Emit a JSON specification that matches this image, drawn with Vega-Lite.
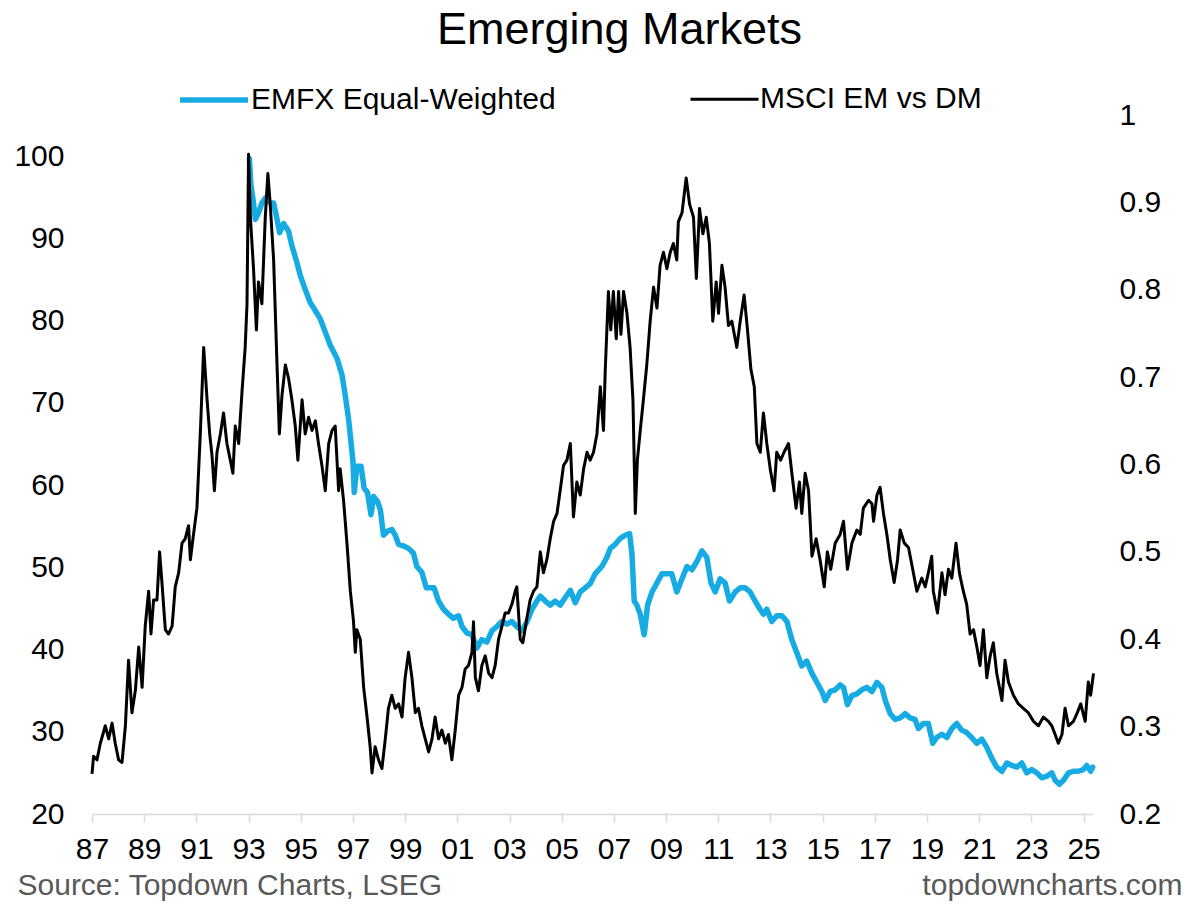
{
  "$schema": "https://vega.github.io/schema/vega-lite/v6.json",
  "width": 1001,
  "height": 699,
  "autosize": {"type": "none"},
  "padding": {"left": 92, "top": 115, "right": 97, "bottom": 91},
  "background": "white",
  "title": {
    "text": "Emerging Markets",
    "font": "Liberation Sans",
    "fontSize": 45,
    "fontWeight": "normal",
    "color": "black",
    "anchor": "middle",
    "dx": 27,
    "offset": 10
  },
  "config": {
    "view": {"stroke": null},
    "font": "Liberation Sans"
  },
  "datasets": {
    "emfx": [
      {"year": 1993.03, "value": 99.7}, {"year": 1993.09, "value": 96.5}, {"year": 1993.19, "value": 94.3}, {"year": 1993.26, "value": 92.3},
      {"year": 1993.38, "value": 93.1}, {"year": 1993.51, "value": 94.3}, {"year": 1993.64, "value": 94.9}, {"year": 1993.83, "value": 94.3},
      {"year": 1993.96, "value": 94.3}, {"year": 1994.06, "value": 92.8}, {"year": 1994.19, "value": 90.7}, {"year": 1994.34, "value": 91.8},
      {"year": 1994.53, "value": 90.9}, {"year": 1994.66, "value": 89.1}, {"year": 1994.85, "value": 87.1}, {"year": 1994.98, "value": 85.5},
      {"year": 1995.17, "value": 83.8}, {"year": 1995.36, "value": 82.2}, {"year": 1995.56, "value": 81.2}, {"year": 1995.75, "value": 80.2},
      {"year": 1995.94, "value": 78.6}, {"year": 1996.13, "value": 77.0}, {"year": 1996.39, "value": 75.4}, {"year": 1996.58, "value": 73.4},
      {"year": 1996.70, "value": 71.0}, {"year": 1996.83, "value": 68.1}, {"year": 1996.90, "value": 66.0}, {"year": 1997.00, "value": 62.9},
      {"year": 1997.05, "value": 59.1}, {"year": 1997.15, "value": 62.3}, {"year": 1997.31, "value": 62.3}, {"year": 1997.43, "value": 59.6},
      {"year": 1997.56, "value": 59.1}, {"year": 1997.69, "value": 56.4}, {"year": 1997.79, "value": 58.6}, {"year": 1997.94, "value": 58.0},
      {"year": 1998.05, "value": 57.0}, {"year": 1998.17, "value": 53.9}, {"year": 1998.33, "value": 54.4}, {"year": 1998.49, "value": 54.6},
      {"year": 1998.62, "value": 53.9}, {"year": 1998.75, "value": 52.8}, {"year": 1998.94, "value": 52.6}, {"year": 1999.13, "value": 52.3},
      {"year": 1999.32, "value": 51.7}, {"year": 1999.45, "value": 50.1}, {"year": 1999.64, "value": 49.4}, {"year": 1999.81, "value": 47.5},
      {"year": 1999.96, "value": 47.5}, {"year": 2000.11, "value": 47.5}, {"year": 2000.28, "value": 45.9}, {"year": 2000.47, "value": 44.9},
      {"year": 2000.66, "value": 44.3}, {"year": 2000.85, "value": 43.8}, {"year": 2001.05, "value": 44.1}, {"year": 2001.18, "value": 42.8},
      {"year": 2001.37, "value": 42.0}, {"year": 2001.56, "value": 41.8}, {"year": 2001.75, "value": 40.2}, {"year": 2001.94, "value": 41.2},
      {"year": 2002.13, "value": 40.9}, {"year": 2002.33, "value": 42.3}, {"year": 2002.52, "value": 42.8}, {"year": 2002.71, "value": 43.4},
      {"year": 2002.90, "value": 43.1}, {"year": 2003.09, "value": 43.4}, {"year": 2003.28, "value": 42.8}, {"year": 2003.48, "value": 42.3},
      {"year": 2003.67, "value": 43.4}, {"year": 2003.86, "value": 44.9}, {"year": 2004.05, "value": 45.9}, {"year": 2004.18, "value": 46.5},
      {"year": 2004.37, "value": 45.9}, {"year": 2004.56, "value": 45.4}, {"year": 2004.75, "value": 45.9}, {"year": 2004.94, "value": 45.4},
      {"year": 2005.13, "value": 46.3}, {"year": 2005.33, "value": 47.2}, {"year": 2005.52, "value": 45.7}, {"year": 2005.71, "value": 47.0},
      {"year": 2005.90, "value": 47.5}, {"year": 2006.09, "value": 48.0}, {"year": 2006.28, "value": 49.2}, {"year": 2006.54, "value": 50.1},
      {"year": 2006.73, "value": 51.2}, {"year": 2006.86, "value": 52.3}, {"year": 2007.05, "value": 52.8}, {"year": 2007.24, "value": 53.5},
      {"year": 2007.43, "value": 53.9}, {"year": 2007.60, "value": 54.1}, {"year": 2007.69, "value": 51.7}, {"year": 2007.78, "value": 45.9},
      {"year": 2007.88, "value": 45.4}, {"year": 2008.01, "value": 44.3}, {"year": 2008.16, "value": 41.8}, {"year": 2008.29, "value": 45.4},
      {"year": 2008.46, "value": 47.0}, {"year": 2008.65, "value": 48.1}, {"year": 2008.84, "value": 49.2}, {"year": 2009.03, "value": 49.2},
      {"year": 2009.22, "value": 49.2}, {"year": 2009.41, "value": 47.0}, {"year": 2009.61, "value": 48.6}, {"year": 2009.80, "value": 50.1},
      {"year": 2009.99, "value": 49.7}, {"year": 2010.18, "value": 50.7}, {"year": 2010.37, "value": 52.0}, {"year": 2010.56, "value": 51.2},
      {"year": 2010.72, "value": 48.1}, {"year": 2010.88, "value": 47.0}, {"year": 2011.07, "value": 48.6}, {"year": 2011.26, "value": 48.1},
      {"year": 2011.43, "value": 45.9}, {"year": 2011.65, "value": 47.0}, {"year": 2011.84, "value": 47.5}, {"year": 2012.03, "value": 47.5},
      {"year": 2012.22, "value": 47.0}, {"year": 2012.41, "value": 45.9}, {"year": 2012.60, "value": 44.9}, {"year": 2012.73, "value": 44.3},
      {"year": 2012.86, "value": 44.9}, {"year": 2013.05, "value": 43.4}, {"year": 2013.24, "value": 44.1}, {"year": 2013.44, "value": 44.1},
      {"year": 2013.63, "value": 43.4}, {"year": 2013.82, "value": 41.2}, {"year": 2014.01, "value": 39.6}, {"year": 2014.20, "value": 38.0},
      {"year": 2014.39, "value": 38.6}, {"year": 2014.59, "value": 37.1}, {"year": 2014.78, "value": 36.0}, {"year": 2014.97, "value": 34.9},
      {"year": 2015.10, "value": 33.8}, {"year": 2015.29, "value": 34.9}, {"year": 2015.48, "value": 35.1}, {"year": 2015.67, "value": 35.7},
      {"year": 2015.80, "value": 35.4}, {"year": 2015.95, "value": 33.3}, {"year": 2016.12, "value": 34.4}, {"year": 2016.31, "value": 34.6},
      {"year": 2016.50, "value": 35.1}, {"year": 2016.69, "value": 35.4}, {"year": 2016.89, "value": 34.9}, {"year": 2017.08, "value": 36.0},
      {"year": 2017.27, "value": 35.4}, {"year": 2017.40, "value": 33.8}, {"year": 2017.59, "value": 32.2}, {"year": 2017.78, "value": 31.5},
      {"year": 2017.97, "value": 31.7}, {"year": 2018.16, "value": 32.2}, {"year": 2018.35, "value": 31.7}, {"year": 2018.54, "value": 31.5},
      {"year": 2018.67, "value": 30.4}, {"year": 2018.86, "value": 31.0}, {"year": 2019.05, "value": 31.0}, {"year": 2019.22, "value": 28.6},
      {"year": 2019.37, "value": 29.3}, {"year": 2019.57, "value": 29.7}, {"year": 2019.76, "value": 29.3}, {"year": 2019.95, "value": 30.4},
      {"year": 2020.14, "value": 31.0}, {"year": 2020.33, "value": 30.2}, {"year": 2020.52, "value": 29.9}, {"year": 2020.71, "value": 29.3},
      {"year": 2020.91, "value": 28.6}, {"year": 2021.10, "value": 29.1}, {"year": 2021.29, "value": 28.1}, {"year": 2021.48, "value": 26.8},
      {"year": 2021.67, "value": 25.7}, {"year": 2021.87, "value": 25.2}, {"year": 2022.06, "value": 26.2}, {"year": 2022.25, "value": 25.9},
      {"year": 2022.44, "value": 25.7}, {"year": 2022.63, "value": 26.2}, {"year": 2022.82, "value": 25.0}, {"year": 2023.01, "value": 25.4},
      {"year": 2023.21, "value": 25.0}, {"year": 2023.40, "value": 24.4}, {"year": 2023.59, "value": 24.6}, {"year": 2023.78, "value": 25.0},
      {"year": 2023.91, "value": 24.1}, {"year": 2024.07, "value": 23.6}, {"year": 2024.23, "value": 24.1}, {"year": 2024.42, "value": 25.0},
      {"year": 2024.61, "value": 25.2}, {"year": 2024.80, "value": 25.2}, {"year": 2024.99, "value": 25.4}, {"year": 2025.12, "value": 25.9},
      {"year": 2025.27, "value": 25.2}, {"year": 2025.35, "value": 25.7}
    ],
    "msci": [
      {"year": 1987.00, "value": 0.246}, {"year": 1987.06, "value": 0.266}, {"year": 1987.19, "value": 0.262}, {"year": 1987.32, "value": 0.281},
      {"year": 1987.51, "value": 0.301}, {"year": 1987.64, "value": 0.286}, {"year": 1987.77, "value": 0.304}, {"year": 1987.89, "value": 0.281},
      {"year": 1988.02, "value": 0.262}, {"year": 1988.15, "value": 0.259}, {"year": 1988.28, "value": 0.301}, {"year": 1988.40, "value": 0.376},
      {"year": 1988.53, "value": 0.316}, {"year": 1988.66, "value": 0.341}, {"year": 1988.79, "value": 0.391}, {"year": 1988.92, "value": 0.345},
      {"year": 1989.04, "value": 0.415}, {"year": 1989.17, "value": 0.455}, {"year": 1989.26, "value": 0.406}, {"year": 1989.36, "value": 0.445},
      {"year": 1989.49, "value": 0.445}, {"year": 1989.59, "value": 0.500}, {"year": 1989.68, "value": 0.465}, {"year": 1989.81, "value": 0.411},
      {"year": 1989.93, "value": 0.406}, {"year": 1990.07, "value": 0.415}, {"year": 1990.19, "value": 0.460}, {"year": 1990.32, "value": 0.476},
      {"year": 1990.45, "value": 0.510}, {"year": 1990.57, "value": 0.515}, {"year": 1990.70, "value": 0.530}, {"year": 1990.77, "value": 0.491},
      {"year": 1990.89, "value": 0.520}, {"year": 1991.02, "value": 0.550}, {"year": 1991.15, "value": 0.635}, {"year": 1991.28, "value": 0.734},
      {"year": 1991.41, "value": 0.674}, {"year": 1991.51, "value": 0.635}, {"year": 1991.60, "value": 0.610}, {"year": 1991.69, "value": 0.570},
      {"year": 1991.79, "value": 0.614}, {"year": 1991.92, "value": 0.635}, {"year": 1992.04, "value": 0.659}, {"year": 1992.17, "value": 0.624},
      {"year": 1992.30, "value": 0.605}, {"year": 1992.40, "value": 0.590}, {"year": 1992.49, "value": 0.644}, {"year": 1992.62, "value": 0.624},
      {"year": 1992.75, "value": 0.684}, {"year": 1992.87, "value": 0.734}, {"year": 1992.94, "value": 0.784}, {"year": 1993.00, "value": 0.955},
      {"year": 1993.07, "value": 0.883}, {"year": 1993.19, "value": 0.824}, {"year": 1993.30, "value": 0.754}, {"year": 1993.38, "value": 0.809},
      {"year": 1993.51, "value": 0.784}, {"year": 1993.64, "value": 0.883}, {"year": 1993.74, "value": 0.933}, {"year": 1993.83, "value": 0.898},
      {"year": 1993.96, "value": 0.834}, {"year": 1994.09, "value": 0.714}, {"year": 1994.18, "value": 0.635}, {"year": 1994.28, "value": 0.679},
      {"year": 1994.41, "value": 0.714}, {"year": 1994.53, "value": 0.699}, {"year": 1994.66, "value": 0.674}, {"year": 1994.79, "value": 0.644},
      {"year": 1994.89, "value": 0.605}, {"year": 1995.05, "value": 0.674}, {"year": 1995.17, "value": 0.635}, {"year": 1995.30, "value": 0.654},
      {"year": 1995.43, "value": 0.639}, {"year": 1995.56, "value": 0.650}, {"year": 1995.68, "value": 0.624}, {"year": 1995.81, "value": 0.599},
      {"year": 1995.94, "value": 0.570}, {"year": 1996.07, "value": 0.624}, {"year": 1996.20, "value": 0.639}, {"year": 1996.32, "value": 0.644},
      {"year": 1996.45, "value": 0.570}, {"year": 1996.51, "value": 0.595}, {"year": 1996.64, "value": 0.559}, {"year": 1996.77, "value": 0.510},
      {"year": 1996.90, "value": 0.455}, {"year": 1997.02, "value": 0.421}, {"year": 1997.09, "value": 0.385}, {"year": 1997.15, "value": 0.411},
      {"year": 1997.28, "value": 0.400}, {"year": 1997.41, "value": 0.345}, {"year": 1997.54, "value": 0.311}, {"year": 1997.66, "value": 0.277},
      {"year": 1997.73, "value": 0.247}, {"year": 1997.85, "value": 0.277}, {"year": 1997.98, "value": 0.262}, {"year": 1998.11, "value": 0.252},
      {"year": 1998.24, "value": 0.286}, {"year": 1998.36, "value": 0.321}, {"year": 1998.49, "value": 0.336}, {"year": 1998.62, "value": 0.321},
      {"year": 1998.75, "value": 0.326}, {"year": 1998.88, "value": 0.311}, {"year": 1999.00, "value": 0.356}, {"year": 1999.13, "value": 0.385},
      {"year": 1999.26, "value": 0.356}, {"year": 1999.39, "value": 0.316}, {"year": 1999.51, "value": 0.321}, {"year": 1999.64, "value": 0.301},
      {"year": 1999.77, "value": 0.286}, {"year": 1999.90, "value": 0.271}, {"year": 2000.03, "value": 0.286}, {"year": 2000.15, "value": 0.311},
      {"year": 2000.28, "value": 0.286}, {"year": 2000.41, "value": 0.296}, {"year": 2000.54, "value": 0.281}, {"year": 2000.66, "value": 0.291},
      {"year": 2000.79, "value": 0.262}, {"year": 2000.92, "value": 0.296}, {"year": 2001.05, "value": 0.336}, {"year": 2001.18, "value": 0.345},
      {"year": 2001.30, "value": 0.366}, {"year": 2001.43, "value": 0.370}, {"year": 2001.56, "value": 0.385}, {"year": 2001.62, "value": 0.420},
      {"year": 2001.69, "value": 0.356}, {"year": 2001.81, "value": 0.341}, {"year": 2001.94, "value": 0.370}, {"year": 2002.07, "value": 0.381},
      {"year": 2002.20, "value": 0.361}, {"year": 2002.33, "value": 0.356}, {"year": 2002.45, "value": 0.370}, {"year": 2002.58, "value": 0.400},
      {"year": 2002.71, "value": 0.415}, {"year": 2002.83, "value": 0.430}, {"year": 2002.96, "value": 0.430}, {"year": 2003.09, "value": 0.440},
      {"year": 2003.22, "value": 0.455}, {"year": 2003.28, "value": 0.460}, {"year": 2003.41, "value": 0.400}, {"year": 2003.51, "value": 0.396},
      {"year": 2003.67, "value": 0.425}, {"year": 2003.79, "value": 0.445}, {"year": 2003.92, "value": 0.455}, {"year": 2004.05, "value": 0.460},
      {"year": 2004.18, "value": 0.500}, {"year": 2004.30, "value": 0.476}, {"year": 2004.43, "value": 0.491}, {"year": 2004.56, "value": 0.515},
      {"year": 2004.69, "value": 0.535}, {"year": 2004.82, "value": 0.544}, {"year": 2004.94, "value": 0.570}, {"year": 2005.07, "value": 0.599},
      {"year": 2005.20, "value": 0.605}, {"year": 2005.33, "value": 0.624}, {"year": 2005.45, "value": 0.540}, {"year": 2005.58, "value": 0.580},
      {"year": 2005.71, "value": 0.565}, {"year": 2005.84, "value": 0.595}, {"year": 2005.97, "value": 0.614}, {"year": 2006.09, "value": 0.605},
      {"year": 2006.22, "value": 0.614}, {"year": 2006.35, "value": 0.635}, {"year": 2006.48, "value": 0.689}, {"year": 2006.60, "value": 0.639},
      {"year": 2006.67, "value": 0.709}, {"year": 2006.79, "value": 0.798}, {"year": 2006.88, "value": 0.754}, {"year": 2006.98, "value": 0.798},
      {"year": 2007.09, "value": 0.744}, {"year": 2007.18, "value": 0.798}, {"year": 2007.27, "value": 0.749}, {"year": 2007.37, "value": 0.798},
      {"year": 2007.50, "value": 0.773}, {"year": 2007.62, "value": 0.734}, {"year": 2007.73, "value": 0.674}, {"year": 2007.82, "value": 0.544},
      {"year": 2007.90, "value": 0.605}, {"year": 2008.01, "value": 0.639}, {"year": 2008.13, "value": 0.674}, {"year": 2008.26, "value": 0.714},
      {"year": 2008.39, "value": 0.764}, {"year": 2008.52, "value": 0.803}, {"year": 2008.65, "value": 0.779}, {"year": 2008.77, "value": 0.828},
      {"year": 2008.90, "value": 0.843}, {"year": 2009.03, "value": 0.824}, {"year": 2009.16, "value": 0.843}, {"year": 2009.28, "value": 0.853},
      {"year": 2009.41, "value": 0.834}, {"year": 2009.47, "value": 0.878}, {"year": 2009.61, "value": 0.888}, {"year": 2009.77, "value": 0.928},
      {"year": 2009.90, "value": 0.898}, {"year": 2010.05, "value": 0.883}, {"year": 2010.16, "value": 0.813}, {"year": 2010.28, "value": 0.893},
      {"year": 2010.41, "value": 0.864}, {"year": 2010.54, "value": 0.883}, {"year": 2010.66, "value": 0.853}, {"year": 2010.79, "value": 0.764},
      {"year": 2010.92, "value": 0.809}, {"year": 2011.01, "value": 0.773}, {"year": 2011.14, "value": 0.828}, {"year": 2011.26, "value": 0.803},
      {"year": 2011.39, "value": 0.759}, {"year": 2011.52, "value": 0.764}, {"year": 2011.71, "value": 0.734}, {"year": 2011.84, "value": 0.764},
      {"year": 2011.99, "value": 0.794}, {"year": 2012.12, "value": 0.754}, {"year": 2012.25, "value": 0.709}, {"year": 2012.38, "value": 0.689},
      {"year": 2012.48, "value": 0.624}, {"year": 2012.61, "value": 0.614}, {"year": 2012.73, "value": 0.659}, {"year": 2012.86, "value": 0.624},
      {"year": 2012.99, "value": 0.595}, {"year": 2013.14, "value": 0.570}, {"year": 2013.24, "value": 0.614}, {"year": 2013.39, "value": 0.605},
      {"year": 2013.52, "value": 0.614}, {"year": 2013.69, "value": 0.624}, {"year": 2013.82, "value": 0.590}, {"year": 2013.98, "value": 0.550},
      {"year": 2014.11, "value": 0.580}, {"year": 2014.20, "value": 0.544}, {"year": 2014.33, "value": 0.590}, {"year": 2014.46, "value": 0.570},
      {"year": 2014.59, "value": 0.495}, {"year": 2014.75, "value": 0.515}, {"year": 2014.90, "value": 0.491}, {"year": 2015.06, "value": 0.460},
      {"year": 2015.18, "value": 0.500}, {"year": 2015.31, "value": 0.480}, {"year": 2015.48, "value": 0.510}, {"year": 2015.67, "value": 0.520},
      {"year": 2015.80, "value": 0.535}, {"year": 2015.95, "value": 0.480}, {"year": 2016.12, "value": 0.510}, {"year": 2016.31, "value": 0.525},
      {"year": 2016.44, "value": 0.520}, {"year": 2016.56, "value": 0.550}, {"year": 2016.76, "value": 0.559}, {"year": 2016.89, "value": 0.555},
      {"year": 2016.95, "value": 0.535}, {"year": 2017.08, "value": 0.565}, {"year": 2017.20, "value": 0.574}, {"year": 2017.33, "value": 0.544},
      {"year": 2017.46, "value": 0.520}, {"year": 2017.59, "value": 0.491}, {"year": 2017.74, "value": 0.465}, {"year": 2017.87, "value": 0.491},
      {"year": 2017.97, "value": 0.525}, {"year": 2018.13, "value": 0.510}, {"year": 2018.29, "value": 0.505}, {"year": 2018.42, "value": 0.485},
      {"year": 2018.61, "value": 0.455}, {"year": 2018.80, "value": 0.470}, {"year": 2018.93, "value": 0.460}, {"year": 2019.05, "value": 0.476},
      {"year": 2019.18, "value": 0.495}, {"year": 2019.24, "value": 0.455}, {"year": 2019.40, "value": 0.430}, {"year": 2019.57, "value": 0.476},
      {"year": 2019.69, "value": 0.451}, {"year": 2019.82, "value": 0.480}, {"year": 2019.95, "value": 0.470}, {"year": 2020.11, "value": 0.510},
      {"year": 2020.24, "value": 0.476}, {"year": 2020.39, "value": 0.455}, {"year": 2020.52, "value": 0.440}, {"year": 2020.65, "value": 0.406},
      {"year": 2020.78, "value": 0.411}, {"year": 2020.91, "value": 0.391}, {"year": 2021.03, "value": 0.370}, {"year": 2021.16, "value": 0.411},
      {"year": 2021.29, "value": 0.356}, {"year": 2021.42, "value": 0.381}, {"year": 2021.54, "value": 0.396}, {"year": 2021.67, "value": 0.361},
      {"year": 2021.87, "value": 0.330}, {"year": 2021.99, "value": 0.376}, {"year": 2022.12, "value": 0.351}, {"year": 2022.31, "value": 0.336},
      {"year": 2022.50, "value": 0.326}, {"year": 2022.69, "value": 0.321}, {"year": 2022.88, "value": 0.316}, {"year": 2023.08, "value": 0.306},
      {"year": 2023.27, "value": 0.301}, {"year": 2023.46, "value": 0.311}, {"year": 2023.65, "value": 0.306}, {"year": 2023.78, "value": 0.301},
      {"year": 2023.91, "value": 0.291}, {"year": 2024.03, "value": 0.281}, {"year": 2024.17, "value": 0.291}, {"year": 2024.29, "value": 0.321},
      {"year": 2024.42, "value": 0.301}, {"year": 2024.61, "value": 0.306}, {"year": 2024.76, "value": 0.316}, {"year": 2024.89, "value": 0.326},
      {"year": 2025.06, "value": 0.306}, {"year": 2025.18, "value": 0.351}, {"year": 2025.27, "value": 0.336}, {"year": 2025.38, "value": 0.361}
    ]
  },
  "encoding": {
    "x": {
      "field": "year",
      "type": "quantitative",
      "scale": {"domain": [1987, 2025.36], "nice": false, "zero": false},
      "axis": {
        "values": [1987, 1989, 1991, 1993, 1995, 1997, 1999, 2001, 2003, 2005, 2007, 2009, 2011, 2013, 2015, 2017, 2019, 2021, 2023, 2025],
        "labelExpr": "slice('0' + (datum.value % 100), -2)",
        "title": null,
        "grid": false,
        "domainColor": "#d9d9d9",
        "domainWidth": 1.5,
        "tickColor": "#d9d9d9",
        "tickWidth": 1.5,
        "tickSize": 8,
        "labelFont": "Liberation Sans",
        "labelFontSize": 30,
        "labelColor": "black",
        "labelPadding": 12,
        "labelFlush": false,
        "labelOverlap": false
      }
    },
    "color": {
      "scale": {"domain": ["EMFX Equal-Weighted", "MSCI EM vs DM"], "range": ["#17ABE3", "#000000"]},
      "legend": {
        "title": null,
        "orient": "none",
        "legendX": 85,
        "legendY": -52,
        "direction": "horizontal",
        "symbolType": "stroke",
        "symbolSize": 4624,
        "labelFont": "Liberation Sans",
        "labelFontSize": 30,
        "labelColor": "black",
        "labelOffset": 0,
        "labelLimit": 600,
        "columnPadding": 128
      }
    },
    "strokeWidth": {
      "scale": {"domain": ["EMFX Equal-Weighted", "MSCI EM vs DM"], "range": [5.5, 3]},
      "legend": {
        "title": null,
        "orient": "none",
        "legendX": 85,
        "legendY": -52,
        "direction": "horizontal",
        "symbolType": "stroke",
        "symbolSize": 4624,
        "labelFont": "Liberation Sans",
        "labelFontSize": 30,
        "labelColor": "black",
        "labelOffset": 0,
        "labelLimit": 600,
        "columnPadding": 128
      }
    }
  },
  "layer": [
    {
      "data": {"name": "emfx"},
      "mark": {"type": "line", "strokeJoin": "round", "strokeCap": "round"},
      "encoding": {
        "y": {
          "field": "value",
          "type": "quantitative",
          "scale": {"domain": [20, 105], "nice": false, "zero": false},
          "axis": {
            "orient": "left",
            "values": [20, 30, 40, 50, 60, 70, 80, 90, 100],
            "grid": false,
            "domain": false,
            "ticks": false,
            "tickSize": 0,
            "labelFont": "Liberation Sans",
            "labelFontSize": 30,
            "labelColor": "black",
            "labelPadding": 28,
            "title": "Source: Topdown Charts, LSEG",
            "titleAngle": 0,
            "titleX": -75,
            "titleY": 779,
            "titleAlign": "left",
            "titleBaseline": "alphabetic",
            "titleFont": "Liberation Sans",
            "titleFontSize": 30,
            "titleFontWeight": "normal",
            "titleColor": "#595959"
          }
        },
        "color": {"datum": "EMFX Equal-Weighted", "type": "nominal"},
        "strokeWidth": {"datum": "EMFX Equal-Weighted", "type": "nominal"}
      }
    },
    {
      "data": {"name": "msci"},
      "mark": {"type": "line", "strokeJoin": "round"},
      "encoding": {
        "y": {
          "field": "value",
          "type": "quantitative",
          "scale": {"domain": [0.2, 1], "nice": false, "zero": false},
          "axis": {
            "orient": "right",
            "values": [0.2, 0.3, 0.4, 0.5, 0.6, 0.7, 0.8, 0.9, 1],
            "format": "~g",
            "grid": false,
            "domain": false,
            "ticks": false,
            "tickSize": 0,
            "labelFont": "Liberation Sans",
            "labelFontSize": 30,
            "labelColor": "black",
            "labelPadding": 26,
            "title": "topdowncharts.com",
            "titleAngle": 0,
            "titleX": 89,
            "titleY": 779,
            "titleAlign": "right",
            "titleBaseline": "alphabetic",
            "titleFont": "Liberation Sans",
            "titleFontSize": 30,
            "titleFontWeight": "normal",
            "titleColor": "#595959"
          }
        },
        "color": {"datum": "MSCI EM vs DM", "type": "nominal"},
        "strokeWidth": {"datum": "MSCI EM vs DM", "type": "nominal"}
      }
    }
  ],
  "resolve": {"scale": {"y": "independent"}}
}
